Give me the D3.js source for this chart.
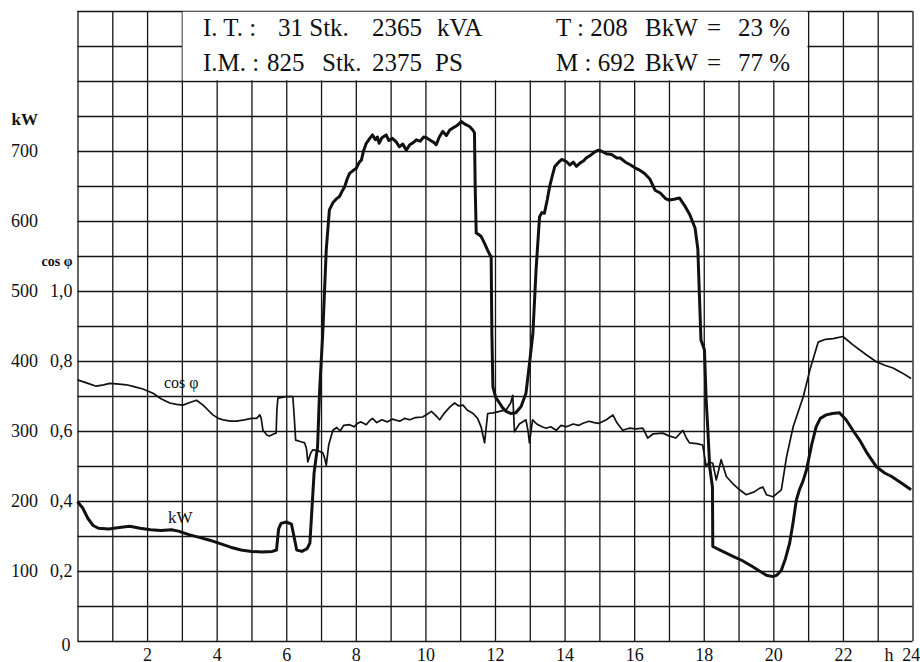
<!DOCTYPE html>
<html>
<head>
<meta charset="utf-8">
<script src="https://cdn.jsdelivr.net/npm/d3@7"></script>
<style>
  body { margin: 0; background: #fff; }
  svg text { font-family: "Liberation Serif", "DejaVu Serif", serif; fill: #111; }
  .grid line, .grid path { stroke: #151515; stroke-width: 1.3; }
</style>
</head>
<body>
<script>
// hourly load curve, kW
var kwHours = [0,0.15,0.3,0.45,0.6,0.9,1.2,1.5,1.8,2.1,2.4,2.7,2.9,3.2,3.5,3.8,4.1,4.4,4.7,5,5.3,5.6,5.72,5.78,5.85,6,6.15,6.22,6.3,6.45,6.6,6.68,6.74,6.8,6.86,6.9,6.96,7.05,7.15,7.24,7.34,7.45,7.53,7.6,7.68,7.75,7.82,7.92,8.01,8.1,8.16,8.22,8.3,8.4,8.48,8.56,8.62,8.67,8.75,8.87,8.95,9.05,9.16,9.25,9.35,9.45,9.55,9.65,9.74,9.85,9.95,10.03,10.15,10.25,10.31,10.4,10.5,10.6,10.7,10.79,10.9,11.03,11.15,11.27,11.36,11.41,11.43,11.46,11.55,11.6,11.7,11.78,11.85,11.89,11.9,11.91,11.94,12.02,12.13,12.22,12.32,12.45,12.6,12.75,12.89,13,13.09,13.18,13.28,13.35,13.42,13.5,13.57,13.65,13.72,13.81,13.92,14.05,14.15,14.25,14.34,14.45,14.55,14.62,14.75,14.85,14.96,15.05,15.2,15.35,15.5,15.6,15.75,15.9,16.05,16.15,16.3,16.45,16.6,16.75,16.9,17,17.15,17.3,17.45,17.6,17.75,17.83,17.88,17.92,18.02,18.07,18.12,18.17,18.25,18.26,18.5,18.84,19.1,19.41,19.6,19.8,19.99,20.1,20.23,20.35,20.47,20.57,20.66,20.75,20.85,20.95,21.1,21.23,21.35,21.52,21.7,21.9,22.09,22.3,22.48,22.7,22.96,23.2,23.4,23.7,23.96];
var kwValues = [199,190,175,165,161,160,162,164,161,159,158,159,157,152,148,144,139,134,130,128,127,128,130,160,168,170,167,150,130,128,132,140,190,240,263,277,359,440,559,616,626,632,635,642,649,660,668,672,675,684,687,700,711,718,723,716,720,711,719,723,715,718,713,706,710,701,709,712,716,714,720,719,715,712,709,720,728,722,730,733,736,742,738,735,730,726,650,583,580,578,568,559,552,549,490,440,363,348,340,333,328,325,326,335,354,400,440,530,606,612,611,630,649,665,678,683,688,685,680,684,678,683,686,690,694,698,701,700,696,695,690,690,684,680,675,673,668,660,644,640,632,630,631,633,622,609,590,560,487,430,416,344,300,249,220,135,129,121,115,106,100,94,92,94,101,118,140,170,201,216,228,244,280,306,318,323,325,326,316,300,287,268,249,240,235,225,216];

// power factor curve, cos phi
var cosHours = [0,0.3,0.54,0.75,0.93,1.2,1.41,1.65,1.88,2.17,2.4,2.65,2.85,3.03,3.25,3.42,3.61,3.75,3.89,4.05,4.18,4.4,4.57,4.8,5,5.15,5.24,5.28,5.33,5.45,5.52,5.65,5.71,5.73,5.76,6,6.19,6.23,6.27,6.4,6.53,6.58,6.62,6.7,6.76,6.9,7.05,7.1,7.15,7.22,7.34,7.45,7.55,7.65,7.82,7.95,8.05,8.15,8.3,8.4,8.48,8.6,8.75,8.9,9.05,9.26,9.4,9.55,9.7,9.92,10.05,10.17,10.3,10.41,10.55,10.7,10.84,10.95,11.08,11.2,11.37,11.5,11.6,11.7,11.79,11.95,12.13,12.32,12.45,12.51,12.56,12.7,12.89,12.95,12.99,13.08,13.2,13.35,13.47,13.6,13.76,13.9,14.05,14.25,14.4,14.53,14.7,14.85,14.99,15.2,15.39,15.5,15.67,15.85,16.05,16.25,16.39,16.55,16.82,17,17.2,17.4,17.5,17.59,17.8,17.97,18.07,18.15,18.26,18.36,18.5,18.65,18.85,19.03,19.22,19.45,19.6,19.7,19.8,19.99,20.23,20.38,20.57,20.86,21.05,21.29,21.5,21.72,22,22.29,22.67,22.96,23.2,23.44,23.7,23.96];
var cosValues = [0.746,0.736,0.728,0.732,0.736,0.734,0.732,0.726,0.72,0.708,0.692,0.68,0.676,0.674,0.682,0.688,0.674,0.66,0.646,0.636,0.632,0.628,0.628,0.632,0.636,0.636,0.646,0.636,0.602,0.588,0.586,0.592,0.594,0.66,0.694,0.698,0.698,0.64,0.574,0.57,0.566,0.55,0.512,0.536,0.546,0.544,0.538,0.524,0.502,0.56,0.602,0.61,0.6,0.616,0.618,0.612,0.622,0.626,0.618,0.63,0.636,0.624,0.632,0.626,0.634,0.628,0.636,0.632,0.638,0.64,0.648,0.656,0.644,0.632,0.652,0.668,0.68,0.672,0.674,0.66,0.65,0.636,0.612,0.566,0.65,0.652,0.656,0.66,0.68,0.702,0.598,0.62,0.632,0.6,0.566,0.632,0.62,0.612,0.608,0.612,0.602,0.616,0.612,0.62,0.616,0.622,0.628,0.624,0.622,0.632,0.646,0.624,0.602,0.608,0.606,0.608,0.58,0.592,0.594,0.586,0.58,0.602,0.58,0.566,0.564,0.56,0.498,0.512,0.508,0.46,0.518,0.47,0.448,0.432,0.418,0.426,0.436,0.44,0.418,0.412,0.432,0.526,0.612,0.698,0.774,0.854,0.862,0.864,0.87,0.846,0.818,0.798,0.788,0.78,0.766,0.75];

// axis labels
var kwTicks = [100,200,300,400,500,600,700];
var cosTicks = [0.2,0.4,0.6,0.8,1.0];
var hourTicks = [2,4,6,8,10,12,14,16,18,20,22,24];

// header lines
var headLeft = [["I. T. :", "31 Stk.", "2365", "kVA"], ["I.M. :", "825 Stk.", "2375", "PS"]];
var headRight = [["T : 208", "BkW", "=", "23 %"], ["M : 692", "BkW", "=", "77 %"]];

var svgWidth = 920, svgHeight = 662;
var margin = {top: 11, right: 7.5, bottom: 21, left: 77.5};
var width = svgWidth - margin.left - margin.right;
var height = svgHeight - margin.top - margin.bottom;

var svg = d3.select("body").append("svg")
  .attr("width", svgWidth)
  .attr("height", svgHeight);

var g = svg.append("g")
  .attr("transform", `translate(${margin.left}, ${margin.top})`);

var x = d3.scaleLinear().domain([0, 24]).range([0, width]);
var y = d3.scaleLinear().domain([0, 900]).range([height, 0]);
// cos phi 1,0 sits on the 500 kW line
var yCos = d3.scaleLinear().domain([0, 1.8]).range([height, 0]);

// grid: one line per hour, one per 50 kW
g.append("g").attr("class", "grid")
  .attr("transform", `translate(0, ${height})`)
  .call(d3.axisBottom(x).tickValues(d3.range(0, 25)).tickSize(-height).tickFormat(""))
  .call(s => s.select(".domain").remove());
g.append("g").attr("class", "grid")
  .call(d3.axisLeft(y).tickValues(d3.range(0, 901, 50)).tickSize(-width).tickFormat(""))
  .call(s => s.select(".domain").remove());

// header box blanks out the grid between 3h and 21h, 800-900 kW
g.append("rect")
  .attr("x", x(3) + 0.7).attr("y", y(900) + 0.7)
  .attr("width", x(21) - x(3) - 1.4)
  .attr("height", y(800) - y(900) - 1.4)
  .attr("fill", "#fff");

var hx = [[203, 278, 372, 437], [203, 267, 372, 435]];
headLeft.forEach(function(row, i) {
  row.forEach(function(t, j) {
    if (i === 1 && j === 1) {
      g.append("text").attr("x", 267 - margin.left).attr("y", y(850) - 10 + i * 35 - 0.5)
        .style("font-size", "25px").text("825");
      g.append("text").attr("x", 322 - margin.left).attr("y", y(850) - 10 + i * 35 - 0.5)
        .style("font-size", "25px").text("Stk.");
      return;
    }
    g.append("text").attr("x", hx[i][j] - margin.left).attr("y", y(850) - 10 + i * 35 - 0.5)
      .style("font-size", "25px").text(t);
  });
});
var rx = [556, 645, 707, 738];
headRight.forEach(function(row, i) {
  row.forEach(function(t, j) {
    g.append("text").attr("x", rx[j] - margin.left).attr("y", y(850) - 10 + i * 35 - 0.5)
      .style("font-size", "25px").text(t);
  });
});

// series
var kwData = kwHours.map((h, i) => ({h: h, v: kwValues[i]}));
var cosData = cosHours.map((h, i) => ({h: h, v: cosValues[i]}));

g.append("path").datum(cosData)
  .attr("fill", "none").attr("stroke", "#111").attr("stroke-width", 1.7)
  .attr("stroke-linejoin", "round")
  .attr("d", d3.line().x(d => x(d.h)).y(d => yCos(d.v)));

g.append("path").datum(kwData)
  .attr("fill", "none").attr("stroke", "#111").attr("stroke-width", 3)
  .attr("stroke-linejoin", "round")
  .attr("d", d3.line().x(d => x(d.h)).y(d => y(d.v)));

// left axes: kW and cos phi
var kwAxis = g.append("g")
  .attr("transform", "translate(-39.5, 0)")
  .call(d3.axisLeft(y).tickValues(kwTicks).tickSize(0).tickPadding(0))
  .call(s => s.select(".domain").remove());
kwAxis.selectAll("text").style("font-size", "18px").attr("dy", "0.32em")
  .style("font-family", "Liberation Serif").attr("fill", "#111");

var cosAxis = g.append("g")
  .attr("transform", "translate(-5, 0)")
  .call(d3.axisLeft(yCos).tickValues(cosTicks).tickSize(0).tickPadding(0)
    .tickFormat(d => d3.format(".1f")(d).replace(".", ",")))
  .call(s => s.select(".domain").remove());
cosAxis.selectAll("text").style("font-size", "18px").attr("dy", "0.32em")
  .style("font-family", "Liberation Serif").attr("fill", "#111");

g.append("text").attr("x", -7).attr("y", height + 10)
  .attr("text-anchor", "end").style("font-size", "18px").text("0");

g.append("text").attr("x", -66).attr("y", y(745) + 5)
  .style("font-size", "17px").style("font-weight", "bold").text("kW");
g.append("text").attr("x", -36).attr("y", y(545) + 6)
  .style("font-size", "14px").style("font-weight", "bold").text("cos φ");

// hours
var xAxis = g.append("g")
  .attr("transform", `translate(0, ${height})`)
  .call(d3.axisBottom(x).tickValues(hourTicks).tickSize(0).tickPadding(7))
  .call(s => s.select(".domain").remove());
xAxis.selectAll("text").style("font-size", "18px")
  .style("font-family", "Liberation Serif").attr("fill", "#111");
xAxis.selectAll(".tick").filter(d => d === 24).select("text").attr("dx", "-0.1em");
g.append("text").attr("x", x(24) - 28).attr("y", height + 20)
  .style("font-size", "18px").text("h");

// curve names
g.append("text").attr("x", 164 - margin.left).attr("y", 388 - margin.top)
  .style("font-size", "16px").text("cos φ");
g.append("text").attr("x", 168 - margin.left).attr("y", 523 - margin.top)
  .style("font-size", "17px").text("kW");
</script>
</body>
</html>
